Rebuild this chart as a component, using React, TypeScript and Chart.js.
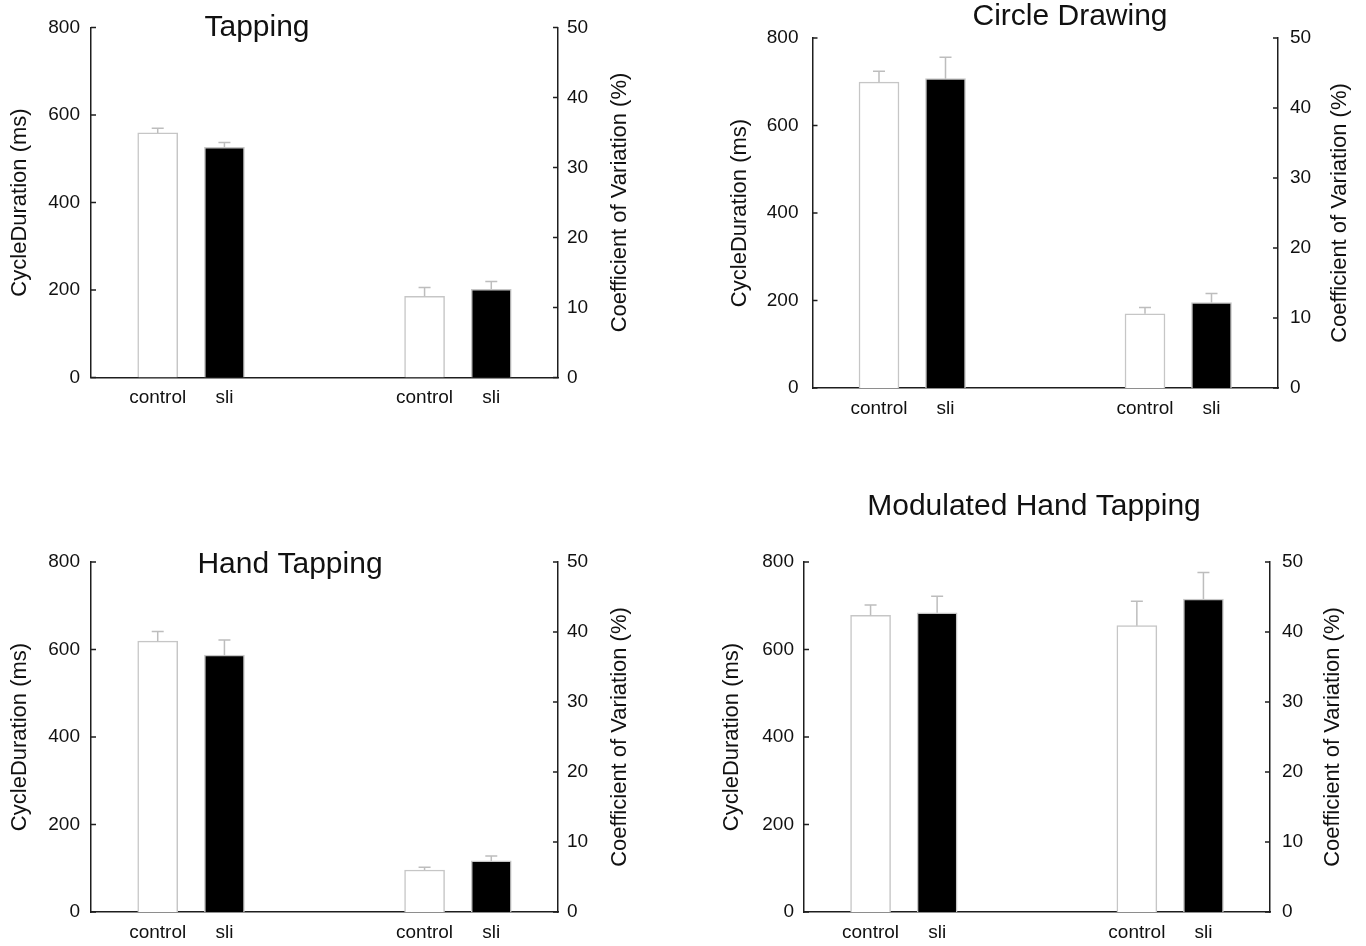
import React, { useEffect, useRef } from 'react';
import { Chart, registerables } from 'chart.js';

Chart.register(...registerables);

// ---------- data ----------
const xLabels = ['', 'control', 'sli', '', '', 'control', 'sli', ''];
const groups = ['control', 'sli'];
const panelTitles = ['Tapping', 'Circle Drawing', 'Hand Tapping', 'Modulated Hand Tapping'];
const leftAxisTitle = 'CycleDuration (ms)';
const rightAxisTitle = 'Coefficient of Variation (%)';
const durationTickStep = 200;
const durationMax = 800;
const cvTickStep = 10;
const cvMax = 50;

const tappingDuration = [559, 526];
const tappingDurationErr = [11, 11];
const tappingCV = [11.6, 12.6];
const tappingCVErr = [1.25, 1.1];

const circleDuration = [699, 707];
const circleDurationErr = [25, 49];
const circleCV = [10.6, 12.2];
const circleCVErr = [0.9, 1.3];

const handDuration = [619, 587];
const handDurationErr = [22, 35];
const handCV = [6.0, 7.3];
const handCVErr = [0.4, 0.7];

const modDuration = [678, 684];
const modDurationErr = [24, 38];
const modCV = [40.9, 44.7];
const modCVErr = [3.5, 3.8];

const panelData = [
  { dur: tappingDuration, durErr: tappingDurationErr, cv: tappingCV, cvErr: tappingCVErr },
  { dur: circleDuration, durErr: circleDurationErr, cv: circleCV, cvErr: circleCVErr },
  { dur: handDuration, durErr: handDurationErr, cv: handCV, cvErr: handCVErr },
  { dur: modDuration, durErr: modDurationErr, cv: modCV, cvErr: modCVErr },
];

// ---------- layout / style ----------
const W = 683;
const H = 473;
const FONT = '"Liberation Sans", Arial, sans-serif';
const barFill = ['#ffffff', '#000000'];
const barEdge = '#c6c6c6';
const errColor = '#bdbdbd';
const axisColor = '#1e1e1e';
const textColor = '#111111';

const layouts = [
  { left: 0, top: 0, plotL: 91, plotR: 558, plotT: 27.5, plotB: 377.5, titleX: 257, titleY: 36, lTitle: 20, rTitle: 620, lPad: 11, rPad: 9 },
  { left: 683, top: 0, plotL: 129.5, plotR: 595, plotT: 38, plotB: 388, titleX: 387, titleY: 25, lTitle: 57, rTitle: 657, lPad: 14, rPad: 12 },
  { left: 0, top: 473, plotL: 91, plotR: 558, plotT: 89, plotB: 439, titleX: 290, titleY: 100, lTitle: 20, rTitle: 620, lPad: 11, rPad: 9 },
  { left: 683, top: 473, plotL: 121, plotR: 587, plotT: 89, plotB: 439, titleX: 351, titleY: 42, lTitle: 49, rTitle: 650, lPad: 10, rPad: 12 },
];

const slotIndex = (offset: number) => (i: number) => (i >= offset && i < offset + groups.length ? i - offset : -1);

function toSlots(vals: number[], offset: number) {
  return xLabels.map((_, i) => {
    const k = slotIndex(offset)(i);
    return k >= 0 ? vals[k] : null;
  });
}

function toColors(offset: number) {
  return xLabels.map((_, i) => {
    const k = slotIndex(offset)(i);
    return k >= 0 ? barFill[k] : '#ffffff';
  });
}

const errorBarPlugin = {
  id: 'errorBars',
  afterDatasetsDraw(chart: any) {
    const ctx = chart.ctx;
    ctx.save();
    ctx.strokeStyle = errColor;
    ctx.lineWidth = 1.5;
    chart.data.datasets.forEach((ds: any, di: number) => {
      const meta = chart.getDatasetMeta(di);
      const scale = chart.scales[ds.yAxisID];
      meta.data.forEach((el: any, i: number) => {
        const v = ds.data[i];
        const e = ds.errors[i];
        if (v == null || e == null) return;
        const yTop = scale.getPixelForValue(v + e);
        const yBar = scale.getPixelForValue(v);
        ctx.beginPath();
        ctx.moveTo(el.x, yBar);
        ctx.lineTo(el.x, yTop);
        ctx.moveTo(el.x - 6, yTop);
        ctx.lineTo(el.x + 6, yTop);
        ctx.stroke();
      });
    });
    ctx.restore();
  },
};

const decorPlugin = {
  id: 'decor',
  afterDraw(chart: any, _args: any, opts: any) {
    const ctx = chart.ctx;
    const area = chart.chartArea;
    ctx.save();
    ctx.strokeStyle = axisColor;
    ctx.lineWidth = 1.5;
    ctx.beginPath();
    ['y', 'y1'].forEach((id) => {
      const s = chart.scales[id];
      const dir = id === 'y' ? 1 : -1;
      const x0 = id === 'y' ? area.left : area.right;
      s.ticks.forEach((_t: any, i: number) => {
        const yy = s.getPixelForTick(i);
        ctx.moveTo(x0, yy);
        ctx.lineTo(x0 + dir * 5, yy);
      });
    });
    ctx.stroke();
    ctx.fillStyle = textColor;
    // panel title
    ctx.font = `30px ${FONT}`;
    ctx.textAlign = 'center';
    ctx.textBaseline = 'alphabetic';
    ctx.fillText(opts.text, opts.x, opts.y);
    // right axis title, reading bottom to top
    ctx.font = `22px ${FONT}`;
    ctx.textBaseline = 'middle';
    ctx.translate(opts.rx, (area.top + area.bottom) / 2);
    ctx.rotate(-Math.PI / 2);
    ctx.fillText(opts.rText, 0, 0);
    ctx.restore();
  },
};

function Panel({ idx }: { idx: number }) {
  const ref = useRef<HTMLCanvasElement | null>(null);
  useEffect(() => {
    const L = layouts[idx];
    const d = panelData[idx];
    const tickFont = { family: FONT, size: 19 };
    const titleFont = { family: FONT, size: 22 };
    const half = (22 * 1.2) / 2;
    const chart = new Chart(ref.current as HTMLCanvasElement, {
      type: 'bar',
      data: {
        labels: xLabels,
        datasets: [
          {
            label: 'CycleDuration',
            yAxisID: 'y',
            data: toSlots(d.dur, 1),
            errors: toSlots(d.durErr, 1),
            backgroundColor: toColors(1),
            borderColor: barEdge,
            borderWidth: 1.5,
          } as any,
          {
            label: 'Coefficient of Variation',
            yAxisID: 'y1',
            data: toSlots(d.cv, 5),
            errors: toSlots(d.cvErr, 5),
            backgroundColor: toColors(5),
            borderColor: barEdge,
            borderWidth: 1.5,
          } as any,
        ],
      },
      options: {
        responsive: false,
        animation: false,
        events: [],
        layout: { padding: { top: L.plotT, left: 0, right: 0, bottom: 0 } },
        datasets: { bar: { grouped: false, barThickness: 40 } } as any,
        plugins: {
          legend: { display: false },
          tooltip: { enabled: false },
          title: { display: false },
          decor: { text: panelTitles[idx], x: L.titleX, y: L.titleY, rText: rightAxisTitle, rx: L.rTitle },
        } as any,
        scales: {
          x: {
            type: 'category',
            offset: false,
            grid: { display: false, drawTicks: false },
            border: { display: true, color: axisColor, width: 1.5 },
            ticks: { autoSkip: false, maxRotation: 0, minRotation: 0, font: tickFont, color: textColor, padding: 9 },
            afterFit: (s: any) => { s.height = H - L.plotB; },
          },
          y: {
            position: 'left',
            min: 0,
            max: durationMax,
            grid: { display: false, drawTicks: false },
            border: { display: true, color: axisColor, width: 1.5 },
            ticks: { stepSize: durationTickStep, font: tickFont, color: textColor, padding: L.lPad },
            title: { display: true, text: leftAxisTitle, font: titleFont, color: textColor, padding: { top: L.lTitle - half, bottom: 0 } },
            afterFit: (s: any) => { s.width = L.plotL; },
          },
          y1: {
            position: 'right',
            min: 0,
            max: cvMax,
            grid: { display: false, drawTicks: false },
            border: { display: true, color: axisColor, width: 1.5 },
            ticks: { stepSize: cvTickStep, font: tickFont, color: textColor, padding: L.rPad },
            title: { display: false },
            afterFit: (s: any) => { s.width = W - L.plotR; },
          },
        } as any,
      },
      plugins: [errorBarPlugin, decorPlugin],
    });
    return () => chart.destroy();
  }, [idx]);
  const L = layouts[idx];
  return (
    <canvas
      ref={ref}
      width={W}
      height={H}
      style={{ position: 'absolute', left: L.left, top: L.top, width: W, height: H }}
    />
  );
}

export default function App() {
  return (
    <div style={{ position: 'absolute', left: 0, top: 0, width: 1366, height: 946, background: '#ffffff', overflow: 'hidden' }}>
      {layouts.map((_, i) => (
        <Panel key={i} idx={i} />
      ))}
    </div>
  );
}
